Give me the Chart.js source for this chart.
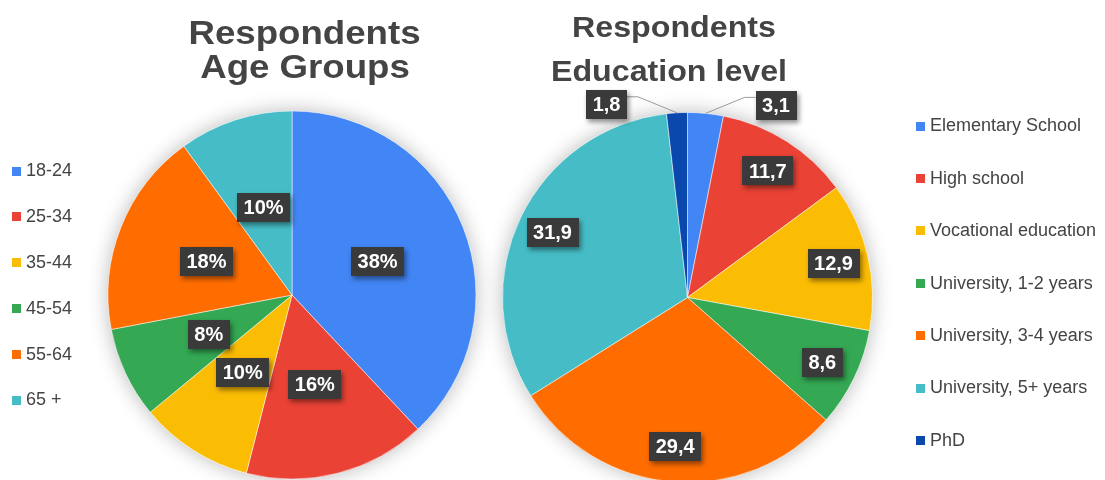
<!DOCTYPE html>
<html>
<head>
<meta charset="utf-8">
<script src="https://cdn.jsdelivr.net/npm/chart.js@4.4.1/dist/chart.umd.min.js"></script>
<style>
  html, body { margin: 0; padding: 0; background: #fff; overflow: hidden; }
  #wrap { position: relative; width: 1105px; height: 480px; overflow: hidden; }
  canvas { position: absolute; left: 0; top: 0; }
</style>
</head>
<body>
<div id="wrap">
  <canvas id="age" width="1105" height="490"></canvas>
  <canvas id="edu" width="1105" height="490"></canvas>
</div>
<script>
// Survey respondents: age groups (percent)
const ageGroups = ['18-24', '25-34', '35-44', '45-54', '55-64', '65 +'];
const agePercent = [38, 16, 10, 8, 18, 10];

// Survey respondents: education level (percent)
const eduLevels = ['Elementary School', 'High school', 'Vocational education',
  'University, 1-2 years', 'University, 3-4 years', 'University, 5+ years', 'PhD'];
const eduPercent = [3.1, 11.7, 12.9, 8.6, 29.4, 31.9, 1.8];

const ageColors = ['#4285F4', '#EA4335', '#FBBC04', '#34A853', '#FF6D01', '#46BDC6'];
const eduColors = ['#4285F4', '#EA4335', '#FBBC04', '#34A853', '#FF6D01', '#46BDC6', '#0B48AE'];

const TEXT = '#444444';
const FONT = '"Liberation Sans", Arial, Helvetica, sans-serif';

// Soft glow behind the whole pie
const pieShadow = {
  id: 'pieShadow',
  beforeDatasetsDraw(chart) {
    const arc = chart.getDatasetMeta(0).data[0];
    if (!arc) return;
    const { x, y, outerRadius } = arc.getProps(['x', 'y', 'outerRadius'], true);
    const ctx = chart.ctx;
    ctx.save();
    ctx.shadowColor = 'rgba(0,0,0,0.28)';
    ctx.shadowBlur = 20;
    ctx.fillStyle = '#fff';
    ctx.beginPath();
    ctx.arc(x, y, outerRadius, 0, Math.PI * 2);
    ctx.fill();
    ctx.restore();
  }
};

function labelFont(ctx) { ctx.font = 'bold 20px ' + FONT; }

function drawValueBox(ctx, text, cx, cy) {
  labelFont(ctx);
  const w = ctx.measureText(text).width + 13, h = 29;
  ctx.save();
  ctx.shadowColor = 'rgba(0,0,0,0.45)';
  ctx.shadowBlur = 5;
  ctx.shadowOffsetX = 2;
  ctx.shadowOffsetY = 3;
  ctx.fillStyle = '#3a3a3a';
  ctx.fillRect(Math.round(cx - w / 2), Math.round(cy - h / 2), Math.round(w), h);
  ctx.restore();
  ctx.fillStyle = '#fff';
  ctx.textAlign = 'center';
  ctx.textBaseline = 'middle';
  ctx.fillText(text, cx, cy + 1);
}

// Title, legend and value labels for one pie
const decor = {
  id: 'decor',
  afterDatasetsDraw(chart, args, opts) {
    const ctx = chart.ctx;
    const meta = chart.getDatasetMeta(0);
    const values = chart.data.datasets[0].data;
    const total = values.reduce((a, b) => a + b, 0);

    meta.data.forEach((arc, i) => {
      const p = arc.getProps(['x', 'y', 'startAngle', 'endAngle', 'outerRadius'], true);
      const mid = (p.startAngle + p.endAngle) / 2;
      const text = opts.format(values[i]);
      if (values[i] / total < 0.05) {
        // small slice: label outside with a leader line
        const ax = p.x + Math.cos(mid) * p.outerRadius;
        const ay = p.y + Math.sin(mid) * p.outerRadius;
        const s = Math.cos(mid) >= 0 ? 1 : -1;
        const ex = ax + s * 39, ey = ay - 16;
        const bx = ex + s * 11;
        ctx.save();
        ctx.strokeStyle = '#9a9a9a';
        ctx.lineWidth = 1;
        ctx.beginPath();
        ctx.moveTo(ax, ay);
        ctx.lineTo(ex, ey);
        ctx.lineTo(bx, ey);
        ctx.stroke();
        ctx.restore();
        labelFont(ctx);
        const w = ctx.measureText(text).width + 13;
        drawValueBox(ctx, text, bx + s * w / 2, ey + 8);
      } else {
        const r = p.outerRadius * opts.labelRadius;
        drawValueBox(ctx, text, p.x + Math.cos(mid) * r, p.y + Math.sin(mid) * r);
      }
    });
  },
  afterDraw(chart, args, opts) {
    const ctx = chart.ctx;
    // title, slightly widened lettering
    ctx.save();
    ctx.fillStyle = TEXT;
    ctx.font = 'bold ' + opts.titleSize + 'px ' + FONT;
    ctx.textAlign = 'center';
    ctx.textBaseline = 'alphabetic';
    opts.title.forEach(line => {
      ctx.save();
      ctx.translate(line.x, line.y);
      ctx.scale(1.11, 1);
      ctx.fillText(line.text, 0, 0);
      ctx.restore();
    });
    ctx.restore();

    // legend
    const colors = chart.data.datasets[0].backgroundColor;
    ctx.save();
    ctx.font = '18px ' + FONT;
    ctx.textAlign = 'left';
    ctx.textBaseline = 'middle';
    chart.data.labels.forEach((lab, i) => {
      const cy = opts.legendY + i * opts.legendStep;
      ctx.fillStyle = colors[i];
      ctx.fillRect(opts.legendX, Math.round(cy - 4), 9, 9);
      ctx.fillStyle = TEXT;
      ctx.fillText(lab, opts.legendX + 14, cy + 1);
    });
    ctx.restore();
  }
};

const common = (labels, data, colors) => ({
  type: 'pie',
  data: {
    labels: labels,
    datasets: [{
      data: data,
      backgroundColor: colors,
      borderColor: 'rgba(255,255,255,0.5)',
      borderWidth: 1
    }]
  }
});

const ageCfg = common(ageGroups, agePercent, ageColors);
ageCfg.options = {
  responsive: false, animation: false, devicePixelRatio: 1,
  layout: { padding: { left: 107, right: 628, top: 110.5, bottom: 10.5 } },
  plugins: {
    legend: { display: false },
    tooltip: { enabled: false },
    decor: {
      title: [
        { text: 'Respondents', x: 304.5, y: 44.3 },
        { text: 'Age Groups', x: 305, y: 77.5 }
      ],
      titleSize: 33,
      legendX: 12, legendY: 170.5, legendStep: 45.8,
      labelRadius: 0.5,
      format: v => v + '%'
    }
  }
};
ageCfg.plugins = [pieShadow, decor];
new Chart(document.getElementById('age'), ageCfg);

const eduCfg = common(eduLevels, eduPercent, eduColors);
eduCfg.options = {
  responsive: false, animation: false, devicePixelRatio: 1,
  layout: { padding: { left: 502, right: 232, top: 112, bottom: 7 } },
  plugins: {
    legend: { display: false },
    tooltip: { enabled: false },
    decor: {
      title: [
        { text: 'Respondents', x: 674, y: 37 },
        { text: 'Education level', x: 669, y: 80.5 }
      ],
      titleSize: 29,
      legendX: 916, legendY: 125.5, legendStep: 52.4,
      labelRadius: 0.81,
      format: v => v.toFixed(1).replace('.', ',')
    }
  }
};
eduCfg.plugins = [pieShadow, decor];
new Chart(document.getElementById('edu'), eduCfg);
</script>
</body>
</html>
